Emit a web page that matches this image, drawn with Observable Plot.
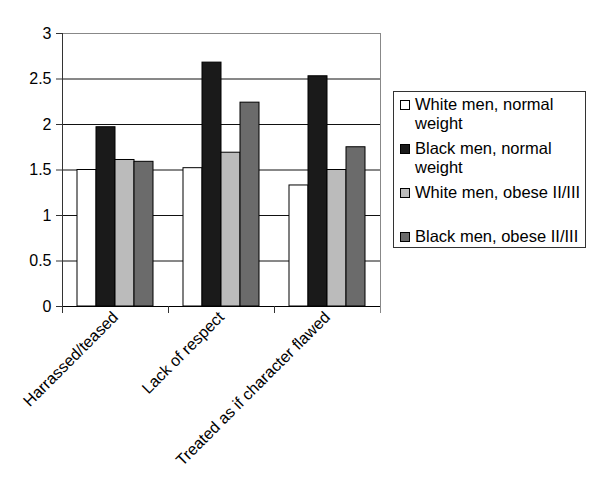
<!DOCTYPE html>
<html><head><meta charset="utf-8">
<script src="https://cdn.jsdelivr.net/npm/d3@7"></script>
<script src="https://cdn.jsdelivr.net/npm/@observablehq/plot@0.6"></script>
<style>
body{margin:0;background:#fff;font-family:"Liberation Sans",Arial,sans-serif;color:#000;}
#wrap{position:relative;width:600px;height:490px;}
#legend{position:absolute;left:393px;top:91px;width:193px;height:157px;box-sizing:border-box;border:1px solid #333;padding-top:2.5px;background:#fff;}
.item{position:relative;height:38px;margin-bottom:6px;padding-left:21px;font-size:16.5px;line-height:19px;white-space:nowrap;}
.sw{position:absolute;left:6px;top:5px;width:10px;height:10px;box-sizing:border-box;border:1px solid #000;}
</style>
</head><body>
<div id="wrap"><div id="legend"></div></div>
<script>
const categories = ["Harrassed/teased", "Lack of respect", "Treated as if character flawed"];
const series = ["White men, normal weight", "Black men, normal weight", "White men, obese II/III", "Black men, obese II/III"];
const legendLines = [["White men, normal", "weight"], ["Black men, normal", "weight"], ["White men, obese II/III"], ["Black men, obese II/III"]];
const colors = ["#ffffff", "#1a1a1a", "#bbbbbb", "#6b6b6b"];
const whiteNormal = [1.50, 1.52, 1.33];
const blackNormal = [1.97, 2.68, 2.53];
const whiteObese = [1.61, 1.69, 1.50];
const blackObese = [1.59, 2.24, 1.75];
const yTicks = [0, 0.5, 1, 1.5, 2, 2.5, 3];

const seriesValues = [whiteNormal, blackNormal, whiteObese, blackObese];
const data = categories.flatMap((c, i) => series.map((s, j) => ({category: c, series: s, value: seriesValues[j][i]})));

const chart = Plot.plot({
  width: 600, height: 490,
  marginLeft: 61, marginRight: 219, marginTop: 33, marginBottom: 184,
  style: {fontFamily: '"Liberation Sans", Arial, sans-serif', fontSize: "16px", color: "#000", background: "#fff"},
  fx: {domain: categories, padding: 0, label: null},
  x: {domain: series, paddingInner: 0, paddingOuter: 0.73, axis: null},
  y: {domain: [0, 3], label: null, axis: null},
  color: {domain: series, range: colors},
  marks: [
    Plot.ruleY(yTicks.filter(d => d > 0 && d < 3), {stroke: "#111", strokeWidth: 1}),
    Plot.ruleY([3], {stroke: "#888"}),
    Plot.barY(data, {fx: "category", x: "series", y: "value", fill: "series", stroke: "#000", strokeWidth: 1, inset: 0}),
    Plot.ruleY([0], {stroke: "#000"}),
    Plot.frame({anchor: "left", facetAnchor: "left", stroke: "#333"}),
    Plot.frame({anchor: "left", insetTop: 273, insetBottom: -6, stroke: "#333"}),
    Plot.frame({anchor: "right", facetAnchor: "right", insetBottom: -6, stroke: "#888"}),
    Plot.axisY({ticks: yTicks, tickFormat: d => String(d), tickSize: 6, tickPadding: 5, label: null, fontSize: 16, stroke: "#333"}),
    Plot.axisFx({anchor: "bottom", tickRotate: -45, tickSize: 0, tickPadding: 8, label: null, fontSize: 16})
  ]
});
document.getElementById("wrap").prepend(chart);

const legend = document.getElementById("legend");
series.forEach((s, i) => {
  const it = document.createElement("div");
  it.className = "item";
  const sw = document.createElement("span");
  sw.className = "sw";
  sw.style.background = colors[i];
  it.appendChild(sw);
  legendLines[i].forEach((t, k) => {
    if (k) it.appendChild(document.createElement("br"));
    it.appendChild(document.createTextNode(t));
  });
  legend.appendChild(it);
});
</script>
</body></html>
